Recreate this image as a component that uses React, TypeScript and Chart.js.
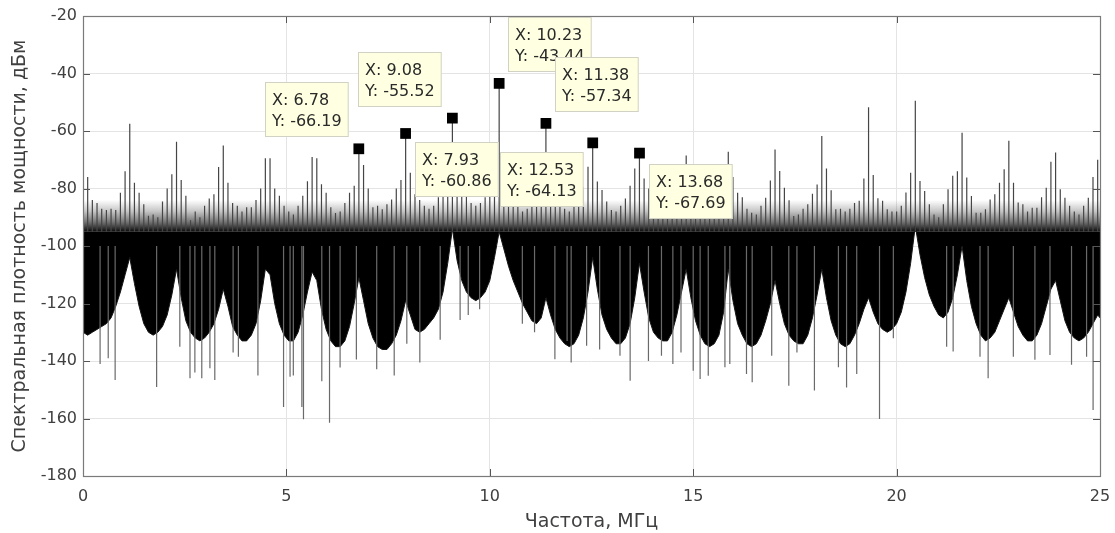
import React, { useEffect, useRef } from 'react';
import { Chart, registerables } from 'chart.js';

Chart.register(...registerables);

// spacing of the spectral lines (MHz)
const LINE_STEP = 10.23 / 89;

// peak level of each spectral line, dBm (line k sits at k * LINE_STEP MHz)
const PEAKS = [
  -88, -76, -84, -85, -87, -87.5, -87, -87.5, -81.5, -74,
  -57.5, -78, -81.5, -85.5, -89.5, -89, -90, -84.5, -80, -75,
  -63.7, -77, -82.5, -91, -88, -90, -86, -83.5, -82, -72.5,
  -65, -78, -85, -86, -88, -86.5, -86.5, -84, -80, -69.5,
  -69.5, -80, -82.5, -86, -88, -89, -86, -82.5, -77.5, -69,
  -69.5, -78.5, -81.5, -86.5, -88.5, -88, -85, -81.5, -79, -66.19,
  -71.8, -80, -86.5, -86, -87.2, -85.5, -83.8, -80, -77, -60.86,
  -74.5, -82, -84, -86, -87, -86, -83, -79, -74, -55.52,
  -71, -78, -82, -85, -86, -85, -83, -80, -76, -43.44,
  -72, -79, -83, -86, -88, -87, -84, -80, -74, -57.34,
  -74, -80, -84, -87, -88, -86, -83, -79.5, -72.4, -64.13,
  -77.6, -80.5, -84.5, -87.5, -88, -86, -83.5, -79, -73, -67.69,
  -76.5, -80, -84, -86, -88, -87, -84, -80, -75, -68.5,
  -76, -82, -86, -88, -88, -86, -82, -77, -67.2, -76,
  -81.5, -83, -87, -88.4, -89, -86, -83.2, -77.2, -66.4, -73.9,
  -79.7, -84.1, -89.6, -89, -87, -85.5, -81.8, -78.6, -61.7, -73,
  -80.6, -87.2, -87, -88, -87, -85, -84.3, -76.5, -51.7, -75.3,
  -83.4, -84.3, -87.2, -88, -88, -86, -81.4, -74.5, -49.5, -77.4,
  -80.9, -85.5, -89, -90, -85.5, -80.3, -75.6, -74, -60.6, -76.2,
  -82.6, -88.4, -88.4, -87.2, -83.8, -82, -78, -73.3, -63.4, -78,
  -84.9, -85.5, -88, -86.7, -86.7, -83, -79.7, -70.7, -67.5, -80.3,
  -83.2, -86, -88, -89, -86, -83.2, -76, -70, -74,
];

// lower edge of the dense noise band at each line, dBm
const FLOOR = [
  -130, -131, -130, -129, -128, -127, -125, -121, -116, -110,
  -104, -113, -121, -127, -130, -131, -130, -128, -124, -117,
  -108, -118, -126, -130, -132, -133, -132, -130, -127, -122,
  -115, -121, -128, -131, -133, -133, -131, -127, -119, -108,
  -110, -120, -127, -131, -133, -133, -130, -124, -116, -109,
  -112, -122, -129, -133, -135, -135, -133, -128, -120, -111,
  -119, -127, -132, -135, -136, -136, -134, -131, -126, -119,
  -124, -129, -130, -129, -127, -125, -122, -116, -106, -94,
  -105, -112, -116, -118, -119, -118, -116, -112, -104, -95,
  -101, -107, -112, -116, -120, -123, -126, -127, -125, -118,
  -124, -129, -132, -134, -135, -134, -131, -125, -116, -104,
  -115, -124, -129, -132, -134, -134, -132, -127, -118, -106,
  -116, -125, -130, -132, -133, -133, -130, -124, -116, -108,
  -118, -126, -131, -134, -135, -134, -131, -123, -108, -119,
  -127, -131, -134, -135, -134, -131, -126, -120, -112, -120,
  -127, -131, -133, -134, -134, -131, -125, -117, -108, -118,
  -126, -131, -134, -135, -134, -131, -127, -122, -118, -123,
  -127, -129, -130, -129, -127, -123, -116, -106, -93, -103,
  -111, -117, -121, -124, -125, -123, -118, -110, -100, -112,
  -121, -127, -131, -133, -132, -130, -126, -122, -118, -123,
  -128, -131, -133, -133, -131, -127, -121, -115, -112, -119,
  -126, -130, -132, -133, -132, -130, -127, -124, -126,
];

// deep isolated dips below the band: frequency (MHz) and level (dBm)
const SPIKE_FREQ = [
  0.42, 0.62, 0.79, 1.81, 2.38, 2.63, 2.75, 2.92, 3.12, 3.24,
  3.69, 3.82, 4.3, 4.93, 5.09, 5.17, 5.38, 5.42, 5.87, 6.06,
  6.32, 6.72, 7.22, 7.65, 7.96, 8.28, 8.78, 9.27, 9.47, 9.75,
  10.8, 11.1, 11.6, 11.9, 12.0, 12.38, 12.7, 13.2, 13.45, 13.9,
  14.22, 14.5, 14.7, 15.0, 15.17, 15.37, 15.78, 15.9, 16.31, 16.45,
  16.93, 17.35, 17.55, 17.98, 18.57, 18.77, 19.02, 19.58, 19.92, 21.23,
  21.39, 22.05, 22.25, 22.87, 23.4, 23.77, 24.3, 24.67, 24.83,
];
const SPIKE_LOW = [
  -141, -139, -146.6, -149, -135, -146, -144, -146, -142.5, -146.6,
  -137, -138.5, -145, -156, -145.5, -145, -156, -160.3, -147, -161.5,
  -142.3, -139.5, -142.9, -145, -134, -140.5, -132.6, -125.7, -124, -122,
  -127, -130, -139.4, -133, -140.5, -134.7, -136, -138.2, -146.9, -140,
  -138.2, -141, -137, -143.4, -146.3, -145.1, -142.2, -141, -144.5, -147.4,
  -138.2, -148.6, -137, -150.3, -142.2, -149.2, -144.5, -160.2, -132.1, -135,
  -136.7, -138.5, -146, -138.5, -139.6, -137.9, -141.3, -138.5, -157,
];

// data tips
const TIP_X = [6.78, 9.08, 10.23, 11.38, 7.93, 12.53, 13.68];
const TIP_Y = [-66.19, -55.52, -43.44, -57.34, -60.86, -64.13, -67.69];
const TIP_X_TEXT = ['6.78', '9.08', '10.23', '11.38', '7.93', '12.53', '13.68'];
const TIP_Y_TEXT = ['-66.19', '-55.52', '-43.44', '-57.34', '-60.86', '-64.13', '-67.69'];
// layout: box corner offset from the marker, px
const TIP_OFFSET = [[-94, -67], [-94, -66], [9, -66], [9, -66], [9, 9], [-93, 9], [9, 11]];

const X_TICKS = [0, 5, 10, 15, 20, 25];
const Y_TICKS = [-180, -160, -140, -120, -100, -80, -60, -40, -20];

const BAND_TOP = -95;
const HAZE_TOP = -84;

const FONT = "'DejaVu Sans', sans-serif";

const framePlugin = {
  id: 'frameTips',
  afterDatasetsDraw(chart: any) {
    const { ctx, chartArea: a, scales } = chart;
    const x = scales.x;
    const y = scales.y;
    ctx.save();
    // inner ticks
    ctx.strokeStyle = '#555';
    ctx.lineWidth = 1;
    ctx.beginPath();
    for (const v of X_TICKS) {
      const px = Math.round(x.getPixelForValue(v)) + 0.5;
      ctx.moveTo(px, a.bottom);
      ctx.lineTo(px, a.bottom - 7);
      ctx.moveTo(px, a.top);
      ctx.lineTo(px, a.top + 7);
    }
    for (const v of Y_TICKS) {
      const py = Math.round(y.getPixelForValue(v)) + 0.5;
      ctx.moveTo(a.left, py);
      ctx.lineTo(a.left + 7, py);
      ctx.moveTo(a.right, py);
      ctx.lineTo(a.right - 7, py);
    }
    ctx.stroke();
    // box
    ctx.strokeStyle = '#7a7a7a';
    ctx.lineWidth = 1.2;
    ctx.strokeRect(Math.round(a.left) + 0.5, Math.round(a.top) + 0.5,
      Math.round(a.right - a.left), Math.round(a.bottom - a.top));

    // data tips
    ctx.font = `16px ${FONT}`;
    ctx.textBaseline = 'middle';
    ctx.textAlign = 'left';
    TIP_X.forEach((tx, k) => {
      const px = x.getPixelForValue(tx);
      const py = y.getPixelForValue(TIP_Y[k]);
      const l1 = `X: ${TIP_X_TEXT[k]}`;
      const l2 = `Y: ${TIP_Y_TEXT[k]}`;
      const w = Math.max(ctx.measureText(l1).width, ctx.measureText(l2).width) + 14;
      const h = 55;
      const bx = Math.round(px + TIP_OFFSET[k][0]);
      const by = Math.round(py + TIP_OFFSET[k][1]);
      ctx.fillStyle = '#ffffe1';
      ctx.fillRect(bx, by, w, h);
      ctx.strokeStyle = '#d2d2c4';
      ctx.lineWidth = 1;
      ctx.strokeRect(bx + 0.5, by + 0.5, w - 1, h - 1);
      ctx.fillStyle = '#2a2a2a';
      ctx.fillText(l1, bx + 7, by + 19);
      ctx.fillText(l2, bx + 7, by + 40);
    });
    ctx.restore();
  },
};

function hazeFill(c: any) {
  const chart = c.chart;
  const y = chart.scales && chart.scales.y;
  if (!chart.chartArea || !y) return 'rgba(30,30,30,0.5)';
  const g = chart.ctx.createLinearGradient(0, y.getPixelForValue(HAZE_TOP), 0, y.getPixelForValue(BAND_TOP));
  g.addColorStop(0, 'rgba(30,30,30,0)');
  g.addColorStop(0.35, 'rgba(30,30,30,0.25)');
  g.addColorStop(0.7, 'rgba(20,20,20,0.6)');
  g.addColorStop(1, 'rgba(0,0,0,0.97)');
  return g;
}

export default function App() {
  const ref = useRef<HTMLCanvasElement | null>(null);

  useEffect(() => {
    if (!ref.current) return;
    const stems: any[] = [];
    PEAKS.forEach((p, i) => {
      const f = i * LINE_STEP;
      stems.push({ x: f, y: BAND_TOP }, { x: f, y: p }, { x: f, y: null });
    });
    const dips: any[] = [];
    SPIKE_FREQ.forEach((f, k) => {
      dips.push({ x: f, y: -100 }, { x: f, y: SPIKE_LOW[k] }, { x: f, y: null });
    });
    const floor = FLOOR.map((v, i) => ({ x: i * LINE_STEP, y: v }));
    const haze = [{ x: 0, y: HAZE_TOP }, { x: 25.1, y: HAZE_TOP }];
    const markers = TIP_X.map((x, k) => ({ x, y: TIP_Y[k] }));

    const chart = new Chart(ref.current, {
      type: 'line',
      data: {
        datasets: [
          {
            data: markers,
            showLine: false,
            pointStyle: 'rect',
            pointRadius: 7.6,
            pointBackgroundColor: '#000',
            pointBorderColor: '#000',
            pointBorderWidth: 0,
          },
          {
            data: stems,
            borderColor: '#454545',
            borderWidth: 1.2,
            pointRadius: 0,
            spanGaps: false,
          },
          {
            data: dips,
            borderColor: '#6a6a6a',
            borderWidth: 1.2,
            pointRadius: 0,
            spanGaps: false,
          },
          {
            data: floor,
            borderColor: '#151515',
            borderWidth: 1,
            backgroundColor: '#000',
            fill: { value: BAND_TOP },
            pointRadius: 0,
          },
          {
            data: haze,
            borderWidth: 0,
            backgroundColor: hazeFill,
            fill: { value: BAND_TOP },
            pointRadius: 0,
          },
        ],
      },
      options: {
        animation: false,
        responsive: true,
        maintainAspectRatio: false,
        layout: { padding: { top: 16, right: 15, left: 0, bottom: 0 } },
        elements: { line: { tension: 0 } },
        plugins: {
          legend: { display: false },
          tooltip: { enabled: false },
        },
        scales: {
          x: {
            type: 'linear',
            min: 0,
            max: 25,
            afterFit: (s: any) => { s.height = 57; s.paddingRight = 0; s.paddingLeft = 0; },
            ticks: {
              stepSize: 5,
              padding: 11,
              color: '#404040',
              font: { family: FONT, size: 16 },
              maxRotation: 0,
            },
            grid: { color: '#e4e4e4', drawTicks: false },
            border: { display: false },
            title: {
              display: true,
              text: 'Частота, МГц',
              color: '#404040',
              font: { family: FONT, size: 19 },
              padding: { top: 0, bottom: 0 },
            },
          },
          y: {
            type: 'linear',
            min: -180,
            max: -20,
            afterFit: (s: any) => { s.width = 83; s.paddingTop = 0; s.paddingBottom = 0; },
            ticks: {
              stepSize: 20,
              padding: 6,
              color: '#404040',
              font: { family: FONT, size: 16 },
            },
            grid: { color: '#e4e4e4', drawTicks: false },
            border: { display: false },
            title: {
              display: true,
              text: 'Спектральная плотность мощности, дБм',
              color: '#404040',
              font: { family: FONT, size: 19 },
              padding: { top: 9, bottom: 0 },
            },
          },
        },
      },
      plugins: [framePlugin],
    } as any);
    return () => chart.destroy();
  }, []);

  return (
    <div style={{ position: 'absolute', left: 0, top: 0, width: 1115, height: 533, background: '#fff' }}>
      <canvas ref={ref} />
    </div>
  );
}
